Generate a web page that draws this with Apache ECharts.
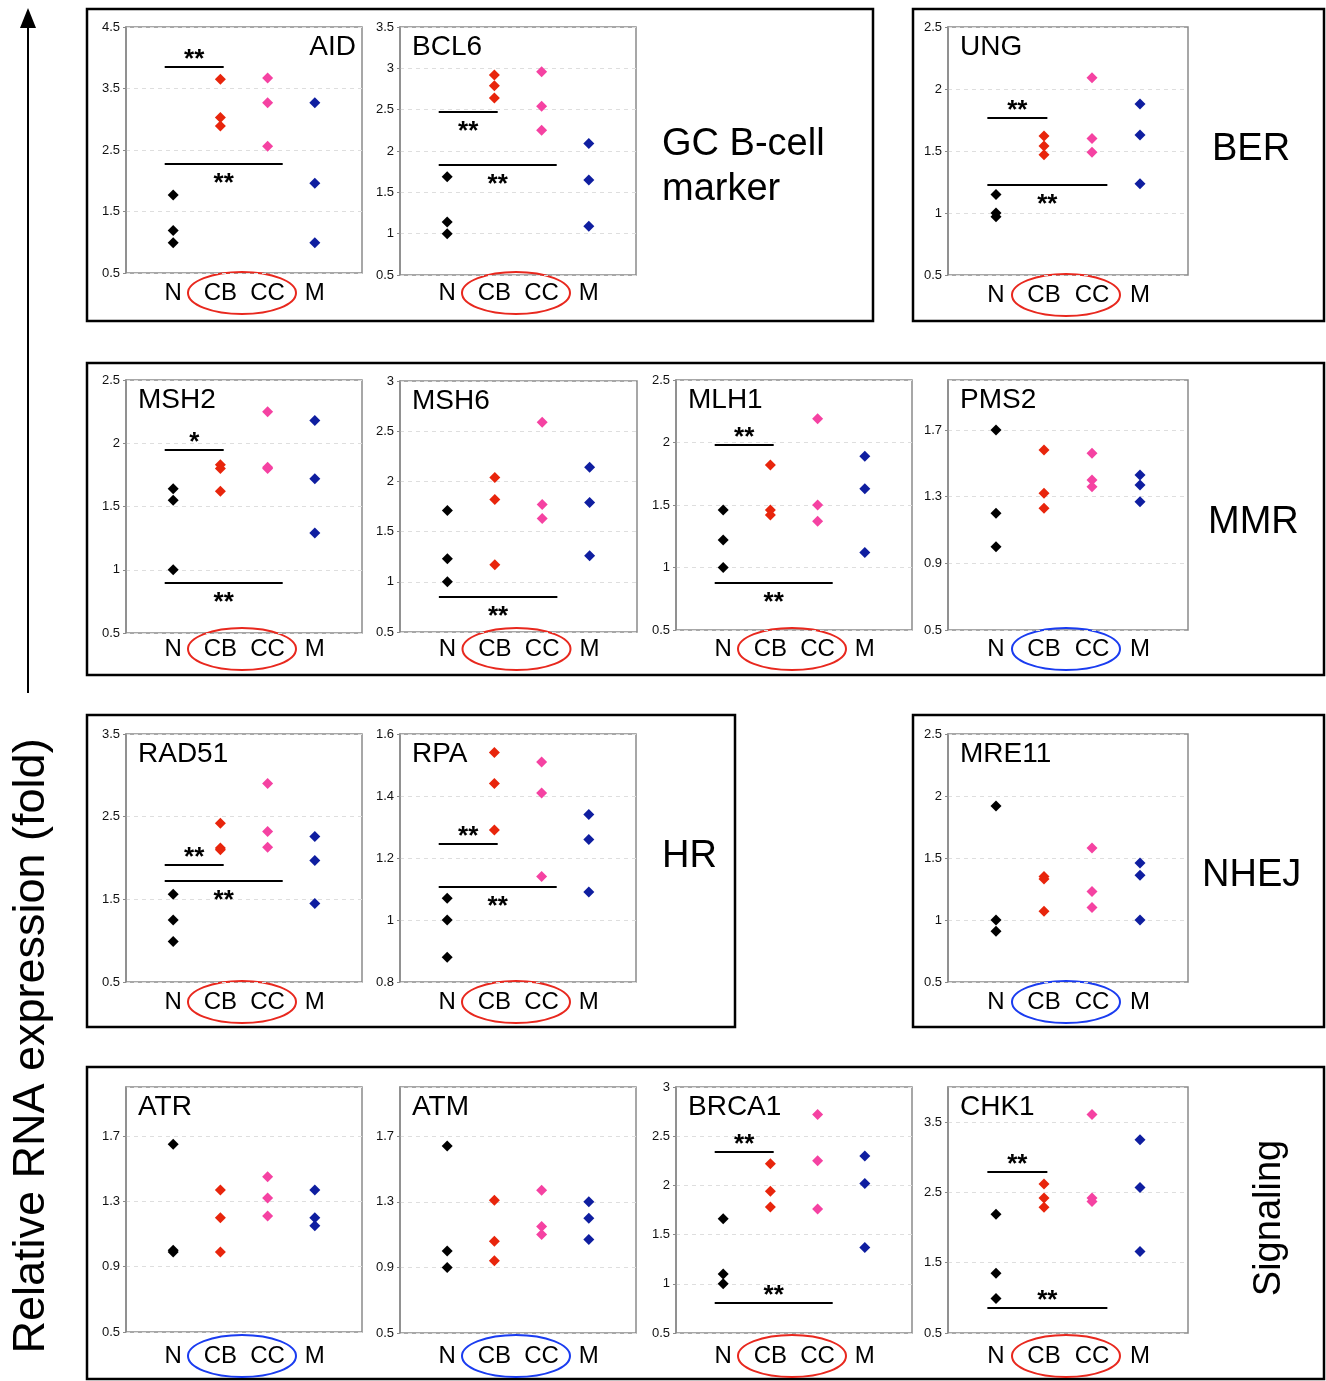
<!DOCTYPE html>
<html>
<head>
<meta charset="utf-8">
<script src="https://cdn.jsdelivr.net/npm/echarts@6/dist/echarts.min.js"></script>
<style>
  html, body { margin: 0; padding: 0; background: #fff; }
  #chart { width: 1326px; height: 1381px; }
</style>
</head>
<body>
<div id="chart"></div>
<script>
  // groups on the x axis
  const CATS = ['N', 'CB', 'CC', 'M'];
  const COLORS = ['#000000', '#e8250c', '#f542a2', '#0f1ea0'];

  // values per gene: [N], [CB], [CC], [M]
  const AID   = [[1.77, 1.19, 0.99], [3.65, 3.03, 2.89], [3.67, 3.27, 2.56], [3.27, 1.96, 0.99]];
  const BCL6  = [[1.69, 1.14, 1.00], [2.92, 2.79, 2.64], [2.96, 2.54, 2.25], [2.09, 1.65, 1.09]];
  const UNG   = [[1.15, 1.00, 0.97], [1.62, 1.54, 1.47], [2.09, 1.60, 1.49], [1.88, 1.63, 1.235]];
  const MSH2  = [[1.64, 1.55, 1.00], [1.83, 1.80, 1.62], [2.25, 1.80, 1.81], [2.18, 1.72, 1.29]];
  const MSH6  = [[1.71, 1.23, 1.00], [2.04, 1.82, 1.17], [2.59, 1.77, 1.63], [2.14, 1.79, 1.26]];
  const MLH1  = [[1.46, 1.22, 1.00], [1.82, 1.46, 1.42], [2.19, 1.50, 1.37], [1.89, 1.63, 1.12]];
  const PMS2  = [[1.70, 1.20, 1.00], [1.58, 1.32, 1.23], [1.56, 1.40, 1.36], [1.43, 1.37, 1.27]];
  const RAD51 = [[1.56, 1.25, 0.99], [2.42, 2.12, 2.10], [2.90, 2.32, 2.13], [2.26, 1.97, 1.45]];
  const RPA   = [[1.07, 1.00, 0.88], [1.54, 1.44, 1.29], [1.51, 1.41, 1.14], [1.34, 1.26, 1.09]];
  const MRE11 = [[1.92, 1.00, 0.91], [1.35, 1.33, 1.07], [1.58, 1.23, 1.10], [1.46, 1.36, 1.00]];
  const ATR   = [[1.65, 1.00, 0.99], [1.37, 1.20, 0.99], [1.45, 1.32, 1.21], [1.37, 1.20, 1.15]];
  const ATM   = [[1.64, 1.00, 0.90], [1.31, 1.06, 0.94], [1.37, 1.15, 1.10], [1.30, 1.20, 1.07]];
  const BRCA1 = [[1.66, 1.10, 1.00], [2.22, 1.94, 1.78], [2.72, 2.25, 1.76], [2.30, 2.02, 1.37]];
  const CHK1  = [[2.19, 1.35, 0.99], [2.62, 2.42, 2.29], [3.61, 2.42, 2.37], [3.25, 2.57, 1.66]];

  // significance bars: [y level, last group, stars, stars above/below]
  const AID_SIG   = [[3.85, 'CB', '**', 'top'], [2.27, 'CC', '**', 'bottom']];
  const BCL6_SIG  = [[2.47, 'CB', '**', 'bottom'], [1.83, 'CC', '**', 'bottom']];
  const UNG_SIG   = [[1.77, 'CB', '**', 'top'], [1.23, 'CC', '**', 'bottom']];
  const MSH2_SIG  = [[1.95, 'CB', '*', 'top'], [0.90, 'CC', '**', 'bottom']];
  const MSH6_SIG  = [[0.85, 'CC', '**', 'bottom']];
  const MLH1_SIG  = [[1.98, 'CB', '**', 'top'], [0.88, 'CC', '**', 'bottom']];
  const RAD51_SIG = [[1.92, 'CB', '**', 'top'], [1.72, 'CC', '**', 'bottom']];
  const RPA_SIG   = [[1.246, 'CB', '**', 'top'], [1.107, 'CC', '**', 'bottom']];
  const BRCA1_SIG = [[2.34, 'CB', '**', 'top'], [0.81, 'CC', '**', 'top']];
  const CHK1_SIG  = [[2.80, 'CB', '**', 'top'], [0.86, 'CC', '**', 'top']];

  const FONT = "'Liberation Sans', Arial, sans-serif";
  const RED = '#e8281e', BLUE = '#1a3cf0';

  // plot areas
  const panels = [
    { name: 'AID',   data: AID,   sig: AID_SIG,   x: 126, y: 27,   w: 236, h: 246, min: 0.5, max: 4.5, step: 1,   ring: RED, lab: 20, right: true },
    { name: 'BCL6',  data: BCL6,  sig: BCL6_SIG,  x: 400, y: 27,   w: 236, h: 248, min: 0.5, max: 3.5, step: 0.5, ring: RED, lab: 18 },
    { name: 'UNG',   data: UNG,   sig: UNG_SIG,   x: 948, y: 27,   w: 240, h: 248, min: 0.5, max: 2.5, step: 0.5, ring: RED, lab: 20 },
    { name: 'MSH2',  data: MSH2,  sig: MSH2_SIG,  x: 126, y: 380,  w: 236, h: 253, min: 0.5, max: 2.5, step: 0.5, ring: RED, lab: 16 },
    { name: 'MSH6',  data: MSH6,  sig: MSH6_SIG,  x: 400, y: 381,  w: 237, h: 251, min: 0.5, max: 3,   step: 0.5, ring: RED, lab: 17 },
    { name: 'MLH1',  data: MLH1,  sig: MLH1_SIG,  x: 676, y: 380,  w: 236, h: 250, min: 0.5, max: 2.5, step: 0.5, ring: RED, lab: 19 },
    { name: 'PMS2',  data: PMS2,  sig: [],        x: 948, y: 380,  w: 240, h: 250, min: 0.5, max: 2.0, step: 0.4, ring: BLUE, lab: 19, hideMax: true },
    { name: 'RAD51', data: RAD51, sig: RAD51_SIG, x: 126, y: 734,  w: 236, h: 248, min: 0.5, max: 3.5, step: 1,   ring: RED, lab: 20 },
    { name: 'RPA',   data: RPA,   sig: RPA_SIG,   x: 400, y: 734,  w: 236, h: 248, min: 0.8, max: 1.6, step: 0.2, ring: RED, lab: 20 },
    { name: 'MRE11', data: MRE11, sig: [],        x: 948, y: 734,  w: 240, h: 248, min: 0.5, max: 2.5, step: 0.5, ring: BLUE, lab: 20 },
    { name: 'ATR',   data: ATR,   sig: [],        x: 126, y: 1087, w: 236, h: 245, min: 0.5, max: 2.0, step: 0.4, ring: BLUE, lab: 24, hideMax: true },
    { name: 'ATM',   data: ATM,   sig: [],        x: 400, y: 1087, w: 236, h: 246, min: 0.5, max: 2.0, step: 0.4, ring: BLUE, lab: 23, hideMax: true },
    { name: 'BRCA1', data: BRCA1, sig: BRCA1_SIG, x: 676, y: 1087, w: 236, h: 246, min: 0.5, max: 3,   step: 0.5, ring: RED, lab: 23 },
    { name: 'CHK1',  data: CHK1,  sig: CHK1_SIG,  x: 948, y: 1087, w: 240, h: 246, min: 0.5, max: 4.0, step: 1,   ring: RED, lab: 23, hideMax: true }
  ];

  const chart = echarts.init(document.getElementById('chart'));

  let series = [];
  panels.forEach((p, i) => {
    p.data.forEach((vals, g) => {
      let s = {
        type: 'scatter',
        xAxisIndex: i,
        yAxisIndex: i,
        symbol: 'diamond',
        symbolSize: 11,
        itemStyle: { color: COLORS[g], opacity: 1 },
        data: vals.map(v => [g + 1, v]),
        z: 3
      };
      if (g === 0 && p.sig.length) {
        s.markLine = {
          silent: true,
          symbol: ['none', 'none'],
          lineStyle: { color: '#000', width: 2, type: 'solid' },
          data: p.sig.map(b => {
            let end = CATS.indexOf(b[1]) + 1 + (b[1] === 'CB' ? 0.07 : 0.32);
            return [
              { coord: [0.82, b[0]] },
              {
                coord: [end, b[0]],
                label: {
                  show: true,
                  formatter: b[2],
                  position: b[3] === 'top' ? 'insideMiddleTop' : 'insideMiddleBottom',
                  distance: b[3] === 'top' ? -6 : 7,
                  fontSize: 26,
                  fontWeight: 'bold',
                  color: '#000',
                  fontFamily: FONT
                }
              }
            ];
          })
        };
      }
      series.push(s);
    });
  });

  let graphic = [];
  // frames round each group
  [[87, 9, 786, 312], [913, 9, 411, 312], [87, 363, 1237, 312],
   [87, 715, 648, 312], [913, 715, 411, 312], [87, 1067, 1237, 312]].forEach(r => {
    graphic.push({ type: 'rect', shape: { x: r[0], y: r[1], width: r[2], height: r[3] },
      style: { fill: 'none', stroke: '#000', lineWidth: 2.5 }, silent: true });
  });
  // rings round CB and CC
  panels.forEach(p => {
    graphic.push({ type: 'ellipse',
      shape: { cx: p.x + p.w / 2 - 2, cy: p.y + p.h + p.lab, rx: 54, ry: 21 },
      style: { fill: 'none', stroke: p.ring, lineWidth: 2 }, silent: true });
  });
  // group names
  [['GC B-cell', 662, 145], ['marker', 662, 190], ['BER', 1212, 150], ['MMR', 1208, 523],
   ['HR', 662, 857], ['NHEJ', 1202, 876]].forEach(t => {
    graphic.push({ type: 'text', x: t[1], y: t[2],
      style: { text: t[0], font: '38px ' + FONT, fill: '#000', textVerticalAlign: 'middle' } });
  });
  graphic.push({ type: 'text', x: 1270, y: 1218, rotation: Math.PI / 2,
    style: { text: 'Signaling', font: '38px ' + FONT, fill: '#000', textAlign: 'center', textVerticalAlign: 'middle' } });
  // y title and arrow
  graphic.push({ type: 'text', x: 32, y: 1046, rotation: Math.PI / 2,
    style: { text: 'Relative RNA expression (fold)', font: '45px ' + FONT, fill: '#000', textAlign: 'center', textVerticalAlign: 'middle' } });
  graphic.push({ type: 'line', shape: { x1: 28, y1: 693, x2: 28, y2: 24 }, style: { stroke: '#000', lineWidth: 2 } });
  graphic.push({ type: 'polygon', shape: { points: [[28, 8], [20, 28], [36, 28]] }, style: { fill: '#000' } });

  chart.setOption({
    animation: false,
    backgroundColor: '#fff',
    title: panels.map(p => ({
      text: p.name,
      left: p.right ? null : p.x + 12,
      right: p.right ? 1326 - (p.x + p.w) + 6 : null,
      top: p.y + 6,
      padding: 0,
      textStyle: { fontSize: 28, fontWeight: 'normal', color: '#000', fontFamily: FONT }
    })),
    grid: panels.map(p => ({
      left: p.x, top: p.y, width: p.w, height: p.h,
      show: true, borderColor: '#8a8a8a', borderWidth: 1.5,
      outerBoundsMode: 'none'
    })),
    xAxis: panels.map((p, i) => ({
      gridIndex: i,
      type: 'value',
      min: 0, max: 5, interval: 1,
      axisLine: { show: false },
      axisTick: { show: false },
      splitLine: { show: false },
      axisLabel: {
        formatter: v => CATS[v - 1] || '',
        fontSize: 24, color: '#000', fontFamily: FONT,
        margin: p.lab - 12
      }
    })),
    yAxis: panels.map((p, i) => ({
      gridIndex: i,
      type: 'value',
      min: p.min, max: p.max, interval: p.step,
      axisLine: { show: true, lineStyle: { color: '#8a8a8a', width: 1.5 } },
      axisTick: { show: true, length: 3, lineStyle: { color: '#8a8a8a' } },
      splitLine: { show: true, lineStyle: { color: '#dedede', type: [4, 4] } },
      axisLabel: {
        fontSize: 13, color: '#111', fontFamily: FONT, margin: 6,
        showMaxLabel: p.hideMax ? false : null
      }
    })),
    series: series,
    graphic: graphic
  });
</script>
</body>
</html>
